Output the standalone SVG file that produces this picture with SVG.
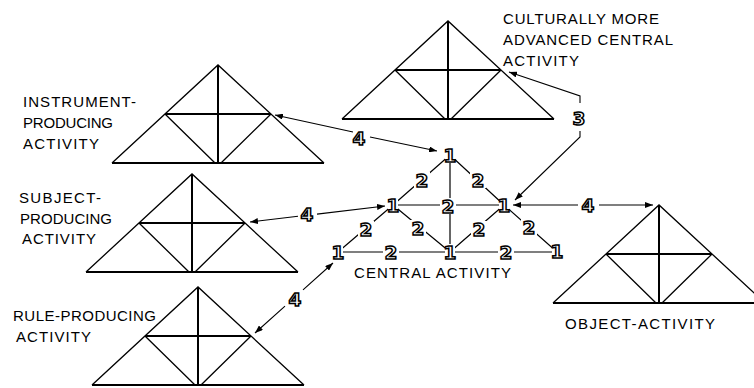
<svg xmlns="http://www.w3.org/2000/svg" xmlns:xlink="http://www.w3.org/1999/xlink" width="754" height="388" viewBox="0 0 754 388">
  <style>
    .hv { fill: none; stroke: #000; stroke-width: 2; }
    .dg { fill: none; stroke: #000; stroke-width: 1.3; }
    .lbl { font-family: "Liberation Sans", Arial, sans-serif; font-size: 15px; fill: #000; }
    .num { font-family: "DejaVu Sans", Verdana, sans-serif; font-weight: bold; font-size: 18.5px; fill: #fff; stroke: #000; stroke-width: 1.5; stroke-linejoin: miter; text-anchor: middle; }
    .net { fill: none; stroke: #000; stroke-width: 1.2; }
    .ko { fill: #fff; }
    .conn { fill: none; stroke: #000; stroke-width: 1.1; marker-start: url(#ah); marker-end: url(#ah); }
  </style>
  <defs>
    <!-- arrowhead used at both ends of every connector -->
    <marker id="ah" viewBox="0 0 8 6" refX="8" refY="3" markerWidth="8" markerHeight="6" markerUnits="userSpaceOnUse" orient="auto-start-reverse">
      <path d="M0,0 L8,3 L0,6 Z" fill="#000"/>
    </marker>
    <!-- activity-system triangle, apex at the origin -->
    <g id="tri">
      <path class="dg" d="M-106,98 L0,0 L106,98"/>
      <path class="hv" d="M-106,98 H106 M-53,49 H53 M0,0 V98"/>
      <path class="dg" d="M-53,49 L-3,98 M53,49 L3,98"/>
    </g>
  </defs>

  <rect width="754" height="388" fill="#fff"/>

  <!-- surrounding activity systems -->
  <g id="instrument-producing">
    <use xlink:href="#tri" href="#tri" x="218" y="65"/>
    <text class="lbl" x="23" y="107" textLength="113" lengthAdjust="spacing">INSTRUMENT-</text>
    <text class="lbl" x="23" y="128" textLength="90" lengthAdjust="spacing">PRODUCING</text>
    <text class="lbl" x="23" y="149" textLength="76" lengthAdjust="spacing">ACTIVITY</text>
  </g>

  <g id="advanced-central">
    <use xlink:href="#tri" href="#tri" x="448" y="21"/>
    <text class="lbl" x="503" y="24" textLength="156" lengthAdjust="spacing">CULTURALLY MORE</text>
    <text class="lbl" x="503" y="45" textLength="170" lengthAdjust="spacing">ADVANCED CENTRAL</text>
    <text class="lbl" x="503" y="66" textLength="76" lengthAdjust="spacing">ACTIVITY</text>
  </g>

  <g id="subject-producing">
    <use xlink:href="#tri" href="#tri" x="192" y="174"/>
    <text class="lbl" x="19" y="203" textLength="82" lengthAdjust="spacing">SUBJECT-</text>
    <text class="lbl" x="20" y="224" textLength="92" lengthAdjust="spacing">PRODUCING</text>
    <text class="lbl" x="22" y="244" textLength="74" lengthAdjust="spacing">ACTIVITY</text>
  </g>

  <g id="rule-producing">
    <use xlink:href="#tri" href="#tri" x="198" y="287"/>
    <text class="lbl" x="13" y="321" textLength="143" lengthAdjust="spacing">RULE-PRODUCING</text>
    <text class="lbl" x="16" y="342" textLength="75" lengthAdjust="spacing">ACTIVITY</text>
  </g>

  <g id="object-activity">
    <use xlink:href="#tri" href="#tri" x="659" y="205"/>
    <text class="lbl" x="565" y="329" textLength="150" lengthAdjust="spacing">OBJECT-ACTIVITY</text>
  </g>

  <!-- central activity: six corners (1) joined by nine edges (2) -->
  <g id="central-activity">
    <path class="net" d="M450,155 L393,205 M450,155 L504,205 M450,155 V252 M393,205 H504 M393,205 L338,252 M393,205 L450,252 M504,205 L450,252 M504,205 L557,252 M338,252 H557"/>
    <g id="edge-labels">
      <rect class="ko" x="414" y="172" width="16" height="16"/><text class="num" x="422" y="187">2</text>
      <rect class="ko" x="470" y="172" width="16" height="16"/><text class="num" x="478" y="187">2</text>
      <rect class="ko" x="440" y="198" width="16" height="16"/><text class="num" x="448" y="213">2</text>
      <rect class="ko" x="358" y="221" width="16" height="16"/><text class="num" x="366" y="236">2</text>
      <rect class="ko" x="410" y="220" width="16" height="16"/><text class="num" x="418" y="235">2</text>
      <rect class="ko" x="471" y="221" width="16" height="16"/><text class="num" x="479" y="236">2</text>
      <rect class="ko" x="521" y="219" width="16" height="16"/><text class="num" x="529" y="234">2</text>
      <rect class="ko" x="383" y="244" width="16" height="16"/><text class="num" x="391" y="259">2</text>
      <rect class="ko" x="498" y="244" width="16" height="16"/><text class="num" x="506" y="259">2</text>
    </g>
    <g id="corner-labels">
      <rect class="ko" x="445" y="147" width="10" height="16"/><text class="num" x="450" y="162">1</text>
      <rect class="ko" x="388" y="197" width="10" height="16"/><text class="num" x="393" y="212">1</text>
      <rect class="ko" x="499" y="197" width="10" height="16"/><text class="num" x="504" y="212">1</text>
      <rect class="ko" x="333" y="244" width="10" height="16"/><text class="num" x="338" y="259">1</text>
      <rect class="ko" x="445" y="244" width="10" height="16"/><text class="num" x="450" y="259">1</text>
      <rect class="ko" x="552" y="243" width="10" height="16"/><text class="num" x="557" y="258">1</text>
    </g>
    <text class="lbl" x="354" y="278" textLength="157" lengthAdjust="spacing">CENTRAL ACTIVITY</text>
  </g>

  <!-- links between the central activity and its neighbours -->
  <g id="connectors">
    <path id="link-instrument" class="conn" d="M275,115 L353,132 M370,137 L437,151"/>
    <text class="num" x="359" y="145">4</text>
    <path id="link-subject" class="conn" d="M250,222 L298,216.3 M317,214.1 L385,206"/>
    <text class="num" x="307" y="221">4</text>
    <path id="link-rule" class="conn" d="M255,333 L285,306.1 M303,289.9 L333,263"/>
    <text class="num" x="295" y="306">4</text>
    <path id="link-object" class="conn" d="M513,205 L578,205 M599,205 L653,205"/>
    <text class="num" x="588" y="212">4</text>
    <path id="link-advanced" class="conn" d="M515,200 L580,137 L580,131 M580,103 L580,96 L509,72"/>
    <text class="num" x="579" y="125">3</text>
  </g>
</svg>
